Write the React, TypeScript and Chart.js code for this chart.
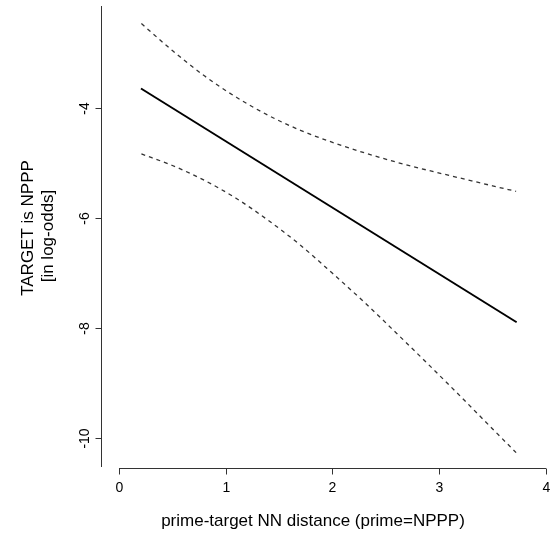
import React, { useEffect, useRef } from "react";
import { Chart, registerables } from "chart.js";

Chart.register(...registerables);

// Fitted line (log-odds vs. distance)
const fitX = [0.206, 3.725];
const fitY = [-3.64, -7.89];

// Confidence bands
const bandX = [0.21, 0.5, 0.8, 1.1, 1.4, 1.7, 2.0, 2.3, 2.6, 2.9, 3.2, 3.5, 3.72];
const upperY = [-2.46, -2.95, -3.41, -3.8, -4.13, -4.4, -4.62, -4.81, -4.98, -5.13, -5.27, -5.41, -5.51];
const lowerY = [-4.83, -5.04, -5.31, -5.64, -6.04, -6.49, -7.0, -7.53, -8.09, -8.66, -9.24, -9.83, -10.26];

const xTicks = [0, 1, 2, 3, 4];
const yTicks = [-4, -6, -8, -10];

const xTitle = "prime-target NN distance (prime=NPPP)";
const yTitle1 = "TARGET is NPPP";
const yTitle2 = "[in log-odds]";

const FONT = '"Liberation Sans", Arial, Helvetica, sans-serif';

const toPts = (xs: number[], ys: number[]) => xs.map((x, i) => ({ x, y: ys[i] }));

const axesPlugin = {
  id: "rAxes",
  afterDraw(chart: any) {
    const ctx = chart.ctx as CanvasRenderingContext2D;
    const xs = chart.scales.x;
    const ys = chart.scales.y;
    const area = chart.chartArea;
    ctx.save();
    ctx.strokeStyle = "#333";
    ctx.fillStyle = "#000";
    ctx.lineWidth = 1;

    // Y axis line
    const ax = Math.round(area.left) + 0.5;
    ctx.beginPath();
    ctx.moveTo(ax, area.top);
    ctx.lineTo(ax, area.bottom - 1);
    ctx.stroke();
    ctx.font = `14px ${FONT}`;
    ctx.textAlign = "center";
    ctx.textBaseline = "middle";
    yTicks.forEach((v) => {
      const py = Math.round(ys.getPixelForValue(v)) + 0.5;
      ctx.beginPath();
      ctx.moveTo(ax, py);
      ctx.lineTo(ax - 6, py);
      ctx.stroke();
      ctx.save();
      ctx.translate(ax - 16, py);
      ctx.rotate(-Math.PI / 2);
      ctx.fillText(String(v), 0, 0);
      ctx.restore();
    });

    // X axis line
    const ay = Math.round(area.bottom) + 0.5;
    const x0 = xs.getPixelForValue(xTicks[0]);
    const x1 = xs.getPixelForValue(xTicks[xTicks.length - 1]);
    ctx.beginPath();
    ctx.moveTo(x0, ay);
    ctx.lineTo(x1, ay);
    ctx.stroke();
    xTicks.forEach((v) => {
      const px = Math.round(xs.getPixelForValue(v)) + 0.5;
      ctx.beginPath();
      ctx.moveTo(px, ay);
      ctx.lineTo(px, ay + 6);
      ctx.stroke();
      ctx.fillText(String(v), px, ay + 20);
    });

    // Titles
    ctx.font = `17px ${FONT}`;
    ctx.fillText(xTitle, 313, 521);
    ctx.save();
    ctx.translate(28, 228);
    ctx.rotate(-Math.PI / 2);
    ctx.fillText(yTitle1, 0, 0);
    ctx.restore();
    ctx.save();
    ctx.translate(48, 236);
    ctx.rotate(-Math.PI / 2);
    ctx.fillText(yTitle2, 0, 0);
    ctx.restore();
    ctx.restore();
  },
};

export default function App() {
  const ref = useRef<HTMLCanvasElement | null>(null);
  useEffect(() => {
    if (!ref.current) return;
    const chart = new Chart(ref.current, {
      type: "line",
      data: {
        datasets: [
          {
            data: toPts(bandX, upperY),
            borderColor: "#333",
            borderWidth: 1.3,
            borderDash: [4, 4],
            pointRadius: 0,
            cubicInterpolationMode: "monotone",
            clip: false,
          } as any,
          {
            data: toPts(bandX, lowerY),
            borderColor: "#333",
            borderWidth: 1.3,
            borderDash: [4, 4],
            pointRadius: 0,
            cubicInterpolationMode: "monotone",
            clip: false,
          } as any,
          {
            data: toPts(fitX, fitY),
            borderColor: "#000",
            borderWidth: 2,
            pointRadius: 0,
            clip: false,
          } as any,
        ],
      },
      options: {
        responsive: false,
        animation: false,
        layout: { padding: { left: 101, right: 6, top: 6, bottom: 68 } },
        plugins: { legend: { display: false }, tooltip: { enabled: false } },
        scales: {
          x: { type: "linear", min: -0.1686, max: 4.0094, display: false },
          y: { type: "linear", min: -10.54, max: -2.14, display: false },
        },
      },
      plugins: [axesPlugin],
    });
    return () => chart.destroy();
  }, []);
  return (
    <div style={{ position: "absolute", left: 0, top: 0, width: 553, height: 536, background: "#fff" }}>
      <canvas ref={ref} width={553} height={536} />
    </div>
  );
}
